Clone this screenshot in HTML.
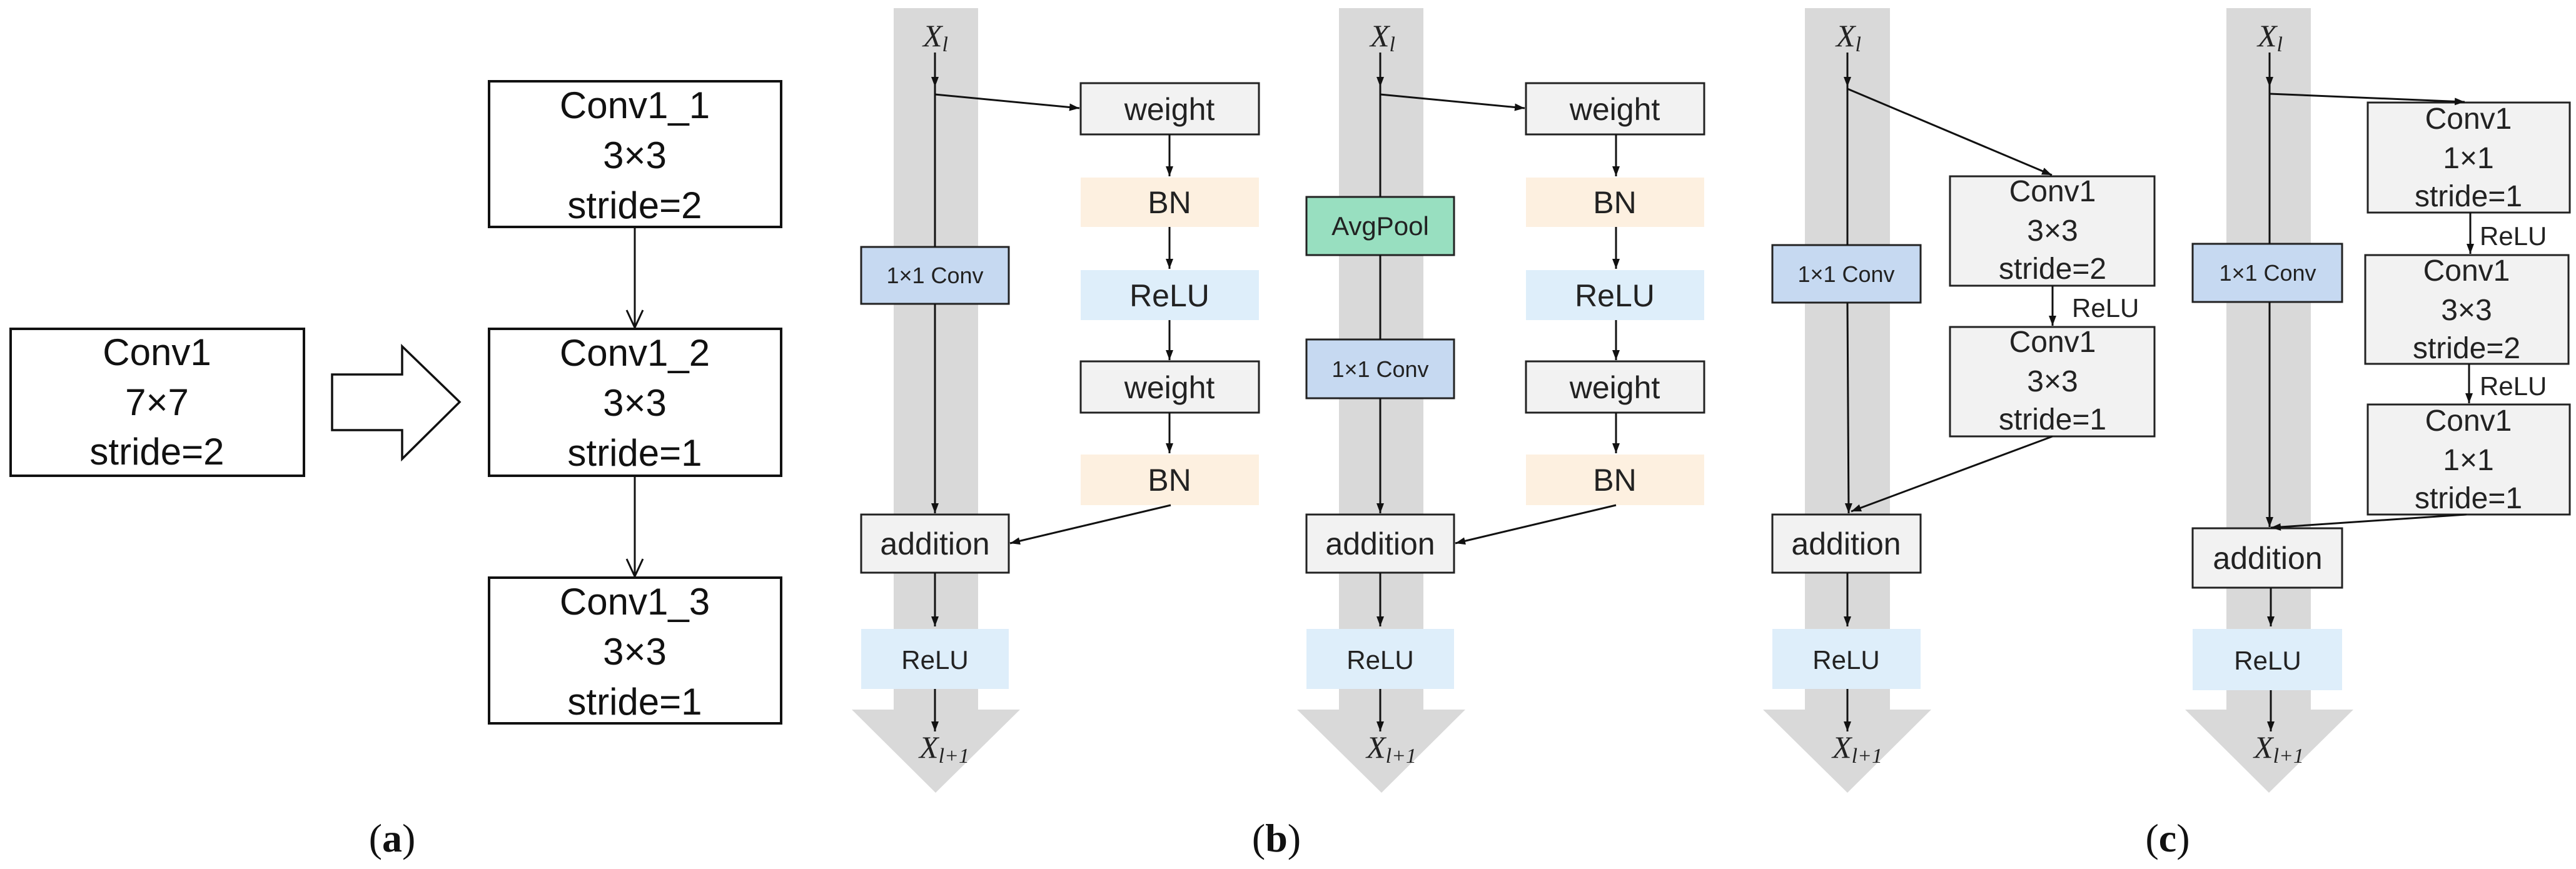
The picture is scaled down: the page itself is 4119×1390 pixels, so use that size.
<!DOCTYPE html>
<html><head><meta charset="utf-8"><style>html,body{margin:0;padding:0;background:#fff}svg{display:block}</style></head>
<body>
<svg width="4119" height="1390" viewBox="0 0 4119 1390" xmlns="http://www.w3.org/2000/svg">
<defs>
<marker id="ah" markerUnits="userSpaceOnUse" markerWidth="20" markerHeight="20" refX="16" refY="8" orient="auto"><path d="M0,2 L16,8 L0,14 Z" fill="#111"/></marker>
<marker id="ah2" markerUnits="userSpaceOnUse" markerWidth="40" markerHeight="40" refX="30" refY="15" orient="auto"><path d="M2,2 L30,15 L2,28" fill="none" stroke="#111" stroke-width="3"/></marker>
</defs>
<g fill="#d9d9d9">
<path d="M1429,13 H1564 V1135 H1631 L1496,1268 L1362,1135 H1429 Z"/>
<path d="M2141,13 H2276 V1135 H2343 L2209,1268 L2074,1135 H2141 Z"/>
<path d="M2886,13 H3022 V1135 H3088 L2954,1268 L2819,1135 H2886 Z"/>
<path d="M3560,13 H3695 V1135 H3763 L3628,1268 L3494,1135 H3560 Z"/>
</g>
<!-- panel a -->
<g fill="#fff" stroke="#111" stroke-width="4">
<rect x="17" y="526" width="469" height="235"/>
<rect x="782" y="130" width="467" height="233"/>
<rect x="782" y="526" width="467" height="235"/>
<rect x="782" y="924" width="467" height="233"/>
<path d="M531,599 H643 V554 L735,643 L643,734 V688 H531 Z" stroke-width="3.5"/>
</g>
<g stroke="#111" stroke-width="3">
<line x1="1015" y1="363" x2="1015" y2="524" marker-end="url(#ah2)"/>
<line x1="1015" y1="761" x2="1015" y2="922" marker-end="url(#ah2)"/>
</g>
<g font-family="Liberation Sans, sans-serif" font-size="60" text-anchor="middle" fill="#111">
<text x="251" y="584">Conv1</text><text x="251" y="664">7×7</text><text x="251" y="743">stride=2</text>
<text x="1015" y="189">Conv1_1</text><text x="1015" y="269">3×3</text><text x="1015" y="349">stride=2</text>
<text x="1015" y="585">Conv1_2</text><text x="1015" y="665">3×3</text><text x="1015" y="745">stride=1</text>
<text x="1015" y="983">Conv1_3</text><text x="1015" y="1063">3×3</text><text x="1015" y="1143">stride=1</text>
</g>
<g font-family="Liberation Serif, serif" font-size="64" text-anchor="middle" fill="#111">
<text x="627" y="1362">(<tspan font-weight="bold">a</tspan>)</text>
<text x="2041" y="1362">(<tspan font-weight="bold">b</tspan>)</text>
<text x="3466" y="1362">(<tspan font-weight="bold">c</tspan>)</text>
</g>
<!-- X labels -->
<g font-family="Liberation Serif, serif" font-style="italic" font-size="50" text-anchor="middle" fill="#222">
<text x="1496" y="74">X<tspan font-size="34" dy="8">l</tspan></text>
<text x="2211" y="74">X<tspan font-size="34" dy="8">l</tspan></text>
<text x="2956" y="74">X<tspan font-size="34" dy="8">l</tspan></text>
<text x="3630" y="74">X<tspan font-size="34" dy="8">l</tspan></text>
<text x="1510" y="1212">X<tspan font-size="34" dy="8">l+1</tspan></text>
<text x="2225" y="1212">X<tspan font-size="34" dy="8">l+1</tspan></text>
<text x="2970" y="1212">X<tspan font-size="34" dy="8">l+1</tspan></text>
<text x="3644" y="1212">X<tspan font-size="34" dy="8">l+1</tspan></text>
</g>
<!-- boxes b/c -->
<g stroke="#222" stroke-width="3">
<!-- b1 -->
<rect x="1377" y="395" width="236" height="91" fill="#c6d9f1"/>
<rect x="1377" y="823" width="236" height="93" fill="#f2f2f2"/>
<rect x="1377" y="1006" width="236" height="96" fill="#deeefa" stroke="none"/>
<rect x="1728" y="133" width="285" height="82" fill="#f2f2f2"/>
<rect x="1728" y="284" width="285" height="79" fill="#fdf0e0" stroke="none"/>
<rect x="1728" y="432" width="285" height="80" fill="#deeefa" stroke="none"/>
<rect x="1728" y="578" width="285" height="82" fill="#f2f2f2"/>
<rect x="1728" y="727" width="285" height="81" fill="#fdf0e0" stroke="none"/>
<!-- b2 -->
<rect x="2089" y="315" width="236" height="93" fill="#98dfc0"/>
<rect x="2089" y="543" width="236" height="94" fill="#c6d9f1"/>
<rect x="2089" y="823" width="236" height="93" fill="#f2f2f2"/>
<rect x="2089" y="1006" width="236" height="96" fill="#deeefa" stroke="none"/>
<rect x="2440" y="133" width="285" height="82" fill="#f2f2f2"/>
<rect x="2440" y="284" width="285" height="79" fill="#fdf0e0" stroke="none"/>
<rect x="2440" y="432" width="285" height="80" fill="#deeefa" stroke="none"/>
<rect x="2440" y="578" width="285" height="82" fill="#f2f2f2"/>
<rect x="2440" y="727" width="285" height="81" fill="#fdf0e0" stroke="none"/>
<!-- c1 -->
<rect x="2834" y="392" width="237" height="92" fill="#c6d9f1"/>
<rect x="2834" y="823" width="237" height="93" fill="#f2f2f2"/>
<rect x="2834" y="1006" width="237" height="96" fill="#deeefa" stroke="none"/>
<rect x="3118" y="282" width="327" height="175" fill="#f2f2f2"/>
<rect x="3118" y="523" width="327" height="175" fill="#f2f2f2"/>
<!-- c2 -->
<rect x="3506" y="390" width="239" height="93" fill="#c6d9f1"/>
<rect x="3506" y="845" width="239" height="95" fill="#f2f2f2"/>
<rect x="3506" y="1006" width="239" height="98" fill="#deeefa" stroke="none"/>
<rect x="3786" y="164" width="323" height="176" fill="#f2f2f2"/>
<rect x="3782" y="408" width="325" height="174" fill="#f2f2f2"/>
<rect x="3786" y="647" width="323" height="176" fill="#f2f2f2"/>
</g>
<!-- connectors -->
<g stroke="#111" stroke-width="3" fill="none">
<!-- b1 -->
<line x1="1495" y1="84" x2="1495" y2="139" marker-end="url(#ah)"/>
<line x1="1495" y1="139" x2="1495" y2="395"/>
<line x1="1495" y1="486" x2="1495" y2="821" marker-end="url(#ah)"/>
<line x1="1495" y1="151" x2="1726" y2="173" marker-end="url(#ah)"/>
<line x1="1870" y1="215" x2="1870" y2="282" marker-end="url(#ah)"/>
<line x1="1870" y1="363" x2="1870" y2="430" marker-end="url(#ah)"/>
<line x1="1870" y1="512" x2="1870" y2="576" marker-end="url(#ah)"/>
<line x1="1870" y1="660" x2="1870" y2="725" marker-end="url(#ah)"/>
<line x1="1872" y1="808" x2="1615" y2="869" marker-end="url(#ah)"/>
<line x1="1495" y1="916" x2="1495" y2="1002" marker-end="url(#ah)"/>
<line x1="1495" y1="1102" x2="1495" y2="1170" marker-end="url(#ah)"/>
<!-- b2 -->
<line x1="2207" y1="84" x2="2207" y2="139" marker-end="url(#ah)"/>
<line x1="2207" y1="139" x2="2207" y2="315"/>
<line x1="2207" y1="408" x2="2207" y2="543"/>
<line x1="2207" y1="637" x2="2207" y2="821" marker-end="url(#ah)"/>
<line x1="2207" y1="151" x2="2438" y2="173" marker-end="url(#ah)"/>
<line x1="2584" y1="215" x2="2584" y2="282" marker-end="url(#ah)"/>
<line x1="2584" y1="363" x2="2584" y2="430" marker-end="url(#ah)"/>
<line x1="2584" y1="512" x2="2584" y2="576" marker-end="url(#ah)"/>
<line x1="2584" y1="660" x2="2584" y2="725" marker-end="url(#ah)"/>
<line x1="2584" y1="808" x2="2327" y2="869" marker-end="url(#ah)"/>
<line x1="2207" y1="916" x2="2207" y2="1002" marker-end="url(#ah)"/>
<line x1="2207" y1="1102" x2="2207" y2="1170" marker-end="url(#ah)"/>
<!-- c1 -->
<line x1="2954" y1="84" x2="2954" y2="139" marker-end="url(#ah)"/>
<line x1="2954" y1="139" x2="2954" y2="392"/>
<line x1="2954" y1="484" x2="2956" y2="821" marker-end="url(#ah)"/>
<line x1="2954" y1="142" x2="3281" y2="280" marker-end="url(#ah)"/>
<line x1="3282" y1="457" x2="3282" y2="521" marker-end="url(#ah)"/>
<line x1="3282" y1="698" x2="2960" y2="818" marker-end="url(#ah)"/>
<line x1="2954" y1="916" x2="2954" y2="1002" marker-end="url(#ah)"/>
<line x1="2954" y1="1102" x2="2954" y2="1170" marker-end="url(#ah)"/>
<!-- c2 -->
<line x1="3629" y1="84" x2="3629" y2="139" marker-end="url(#ah)"/>
<line x1="3629" y1="139" x2="3629" y2="390"/>
<line x1="3629" y1="483" x2="3629" y2="843" marker-end="url(#ah)"/>
<line x1="3629" y1="150" x2="3941" y2="163" marker-end="url(#ah)"/>
<line x1="3950" y1="340" x2="3950" y2="406" marker-end="url(#ah)"/>
<line x1="3948" y1="582" x2="3948" y2="645" marker-end="url(#ah)"/>
<line x1="3944" y1="823" x2="3631" y2="844" marker-end="url(#ah)"/>
<line x1="3631" y1="940" x2="3631" y2="1002" marker-end="url(#ah)"/>
<line x1="3631" y1="1104" x2="3631" y2="1170" marker-end="url(#ah)"/>
</g>
<!-- labels -->
<g font-family="Liberation Sans, sans-serif" text-anchor="middle" fill="#222">
<g font-size="50">
<text x="1870" y="192">weight</text><text x="1870" y="341">BN</text><text x="1870" y="490">ReLU</text><text x="1870" y="637">weight</text><text x="1870" y="785">BN</text>
<text x="2582" y="192">weight</text><text x="2582" y="341">BN</text><text x="2582" y="490">ReLU</text><text x="2582" y="637">weight</text><text x="2582" y="785">BN</text>
<text x="1495" y="887">addition</text><text x="2207" y="887">addition</text><text x="2952" y="887">addition</text><text x="3626" y="910">addition</text>
</g>
<g font-size="42">
<text x="2207" y="376">AvgPool</text>
<text x="1495" y="1070">ReLU</text><text x="2207" y="1070">ReLU</text><text x="2952" y="1070">ReLU</text><text x="3626" y="1071">ReLU</text>
</g>
<g font-size="36">
<text x="1495" y="453">1×1 Conv</text><text x="2207" y="603">1×1 Conv</text><text x="2952" y="451">1×1 Conv</text><text x="3626" y="449">1×1 Conv</text>
</g>
<g font-size="48">
<text x="3282" y="322">Conv1</text><text x="3282" y="385">3×3</text><text x="3282" y="446">stride=2</text>
<text x="3282" y="563">Conv1</text><text x="3282" y="626">3×3</text><text x="3282" y="687">stride=1</text>
<text x="3947" y="206">Conv1</text><text x="3947" y="269">1×1</text><text x="3947" y="330">stride=1</text>
<text x="3944" y="449">Conv1</text><text x="3944" y="512">3×3</text><text x="3944" y="573">stride=2</text>
<text x="3947" y="689">Conv1</text><text x="3947" y="752">1×1</text><text x="3947" y="813">stride=1</text>
</g>
<g font-size="42" text-anchor="start">
<text x="3313" y="507">ReLU</text>
<text x="3965" y="392">ReLU</text>
<text x="3965" y="632">ReLU</text>
</g>
</g>
</svg>
</body></html>
